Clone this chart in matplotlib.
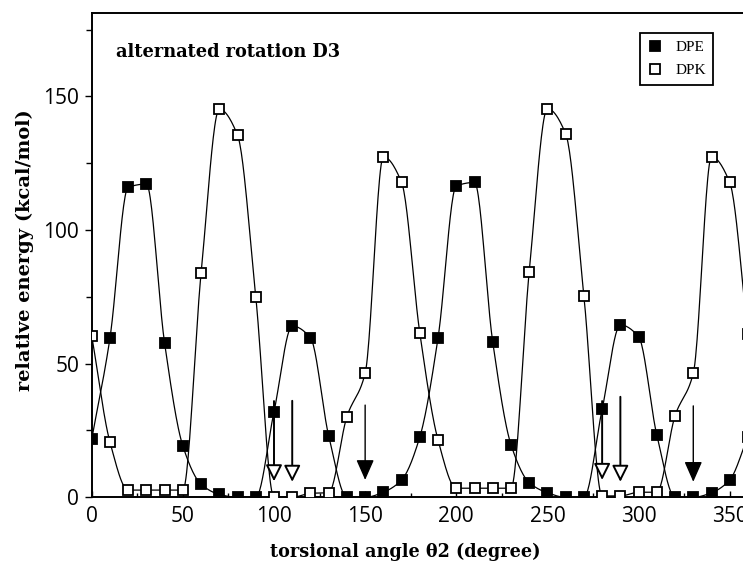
import numpy as np
import matplotlib
matplotlib.use("Agg")
import matplotlib.pyplot as plt
from matplotlib.ticker import MultipleLocator
from matplotlib.lines import Line2D

# torsional angle theta2 (degree)
angle = list(range(0, 361, 10))

# relative energy (kcal/mol)
dpe = [21.7, 59.5, 116.0, 117.2, 57.6, 19.2, 4.9, 1.1, 0.0, 0.0,
       32.0, 64.1, 59.7, 23.0, 0.0, 0.0, 1.9, 6.5, 22.6, 59.7,
       116.5, 117.8, 58.0, 19.7, 5.5, 1.7, 0.0, 0.0, 32.9, 64.5,
       60.1, 23.3, 0.0, 0.0, 1.7, 6.5, 22.7]
dpk = [60.5, 20.7, 2.7, 2.7, 2.7, 2.7, 83.8, 145.2, 135.5, 75.0,
       0.0, 0.0, 1.5, 1.7, 30.2, 46.4, 127.4, 117.8, 61.4, 21.4,
       3.4, 3.4, 3.4, 3.4, 84.4, 145.4, 136.0, 75.3, 0.5, 0.5,
       1.9, 1.9, 30.5, 46.4, 127.4, 117.8, 61.1]

# arrows marking minima: angle, top of shaft, tip, head style
arrow_x = [100, 110, 150, 280, 290, 330]
arrow_top = [36.0, 36.1, 34.5, 36.0, 37.6, 34.2]
arrow_tip = [6.0, 5.8, 6.5, 6.5, 5.8, 5.8]
arrow_kind = ["hollow", "hollow", "solid", "hollow", "hollow", "solid"]


def pchip_curve(x, y, n=24):
    """Monotone cubic curve through the points, for drawing the smooth line."""
    x = np.asarray(x, float)
    y = np.asarray(y, float)
    h = np.diff(x)
    delta = np.diff(y) / h
    d = np.zeros_like(y)
    for k in range(1, len(x) - 1):
        if delta[k - 1] * delta[k] > 0:
            w1 = 2 * h[k] + h[k - 1]
            w2 = h[k] + 2 * h[k - 1]
            d[k] = (w1 + w2) / (w1 / delta[k - 1] + w2 / delta[k])
    d[0] = delta[0]
    d[-1] = delta[-1]
    xs, ys = [], []
    t = np.linspace(0, 1, n, endpoint=False)
    for k in range(len(x) - 1):
        h00 = 2 * t**3 - 3 * t**2 + 1
        h10 = t**3 - 2 * t**2 + t
        h01 = -2 * t**3 + 3 * t**2
        h11 = t**3 - t**2
        xs.append(x[k] + h[k] * t)
        ys.append(h00 * y[k] + h10 * h[k] * d[k] + h01 * y[k + 1] + h11 * h[k] * d[k + 1])
    xs.append([x[-1]])
    ys.append([y[-1]])
    return np.concatenate(xs), np.concatenate(ys)


serif = ["DejaVu Serif"]
sans = ["Open Sans", "DejaVu Sans"]

fig = plt.figure(figsize=(7.43, 5.68), dpi=100)
ax = fig.add_axes([91.7 / 743, 1 - 497.3 / 568, 674.5 / 743, 484.3 / 568])

for series, face in [(dpe, "black"), (dpk, "white")]:
    cx, cy = pchip_curve(angle, series)
    ax.plot(cx, cy, color="black", linewidth=0.9, zorder=2)
    ax.plot(angle, series, linestyle="none", marker="s", markersize=7.2,
            markerfacecolor=face, markeredgecolor="black", markeredgewidth=1.3,
            zorder=3)

for x, top, tip, kind in zip(arrow_x, arrow_top, arrow_tip, arrow_kind):
    if kind == "hollow":
        props = dict(arrowstyle="-|>,head_length=1.0,head_width=0.5",
                     fc="white", ec="black", lw=1.4, shrinkA=0, shrinkB=0)
    else:
        props = dict(arrowstyle="-|>,head_length=1.25,head_width=0.55",
                     fc="black", ec="black", lw=1.0, shrinkA=0, shrinkB=0)
    ax.annotate("", xy=(x, tip), xytext=(x, top), arrowprops=props, zorder=4)

ax.set_xlim(0, 370)
ax.set_ylim(0, 181.2)
ax.xaxis.set_major_locator(MultipleLocator(50))
ax.xaxis.set_minor_locator(MultipleLocator(25))
ax.yaxis.set_major_locator(MultipleLocator(50))
ax.yaxis.set_minor_locator(MultipleLocator(25))
ax.tick_params(axis="x", which="major", direction="in", length=4, width=1, pad=6)
ax.tick_params(axis="x", which="minor", direction="in", length=3, width=1)
ax.tick_params(axis="y", which="major", direction="out", length=5, width=1, pad=4)
ax.tick_params(axis="y", which="minor", direction="out", length=4, width=1)
for lab in ax.get_xticklabels() + ax.get_yticklabels():
    lab.set_family(sans)
    lab.set_fontsize(15)

for side in ["left", "top", "bottom"]:
    ax.spines[side].set_linewidth(1.4)
ax.spines["right"].set_visible(False)

fig.text(116 / 743, 1 - 52 / 568, "alternated rotation D3", fontsize=12.8,
         fontweight="bold", family=serif, va="center", ha="left")

fig.text(405 / 743, 1 - 552 / 568, "torsional angle θ2 (degree)", fontsize=12.7,
         fontweight="bold", family=serif, ha="center", va="center")
fig.text(25 / 743, 1 - 250 / 568, "relative energy (kcal/mol)", fontsize=14,
         fontweight="bold", family=serif, ha="center", va="center", rotation=90)

handles = [
    Line2D([], [], linestyle="none", marker="s", markersize=7, markerfacecolor="black",
           markeredgecolor="black", markeredgewidth=1.3, label="DPE"),
    Line2D([], [], linestyle="none", marker="s", markersize=7, markerfacecolor="white",
           markeredgecolor="black", markeredgewidth=1.3, label="DPK"),
]
leg = fig.legend(handles=handles, loc="upper left", bbox_to_anchor=(640 / 743, 1 - 33 / 568),
                 borderaxespad=0, fancybox=False, framealpha=1, edgecolor="black",
                 prop={"family": ["Liberation Serif"], "size": 11}, handlelength=1.0,
                 handletextpad=0.8, labelspacing=0.6, borderpad=0.5)
leg.get_frame().set_linewidth(1.3)

fig.savefig("out.png", dpi=100)
